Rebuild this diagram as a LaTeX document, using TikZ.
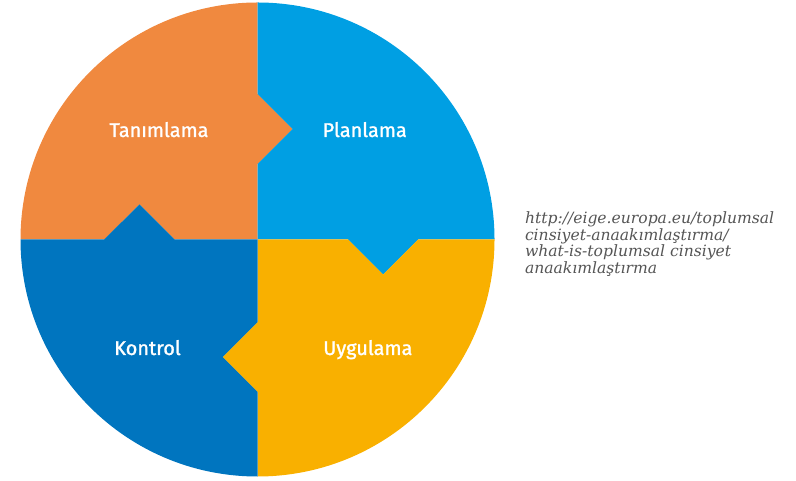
\documentclass[tikz,border=0pt]{standalone}
\usepackage{fontspec}
\setsansfont{Fira Sans}[BoldFont=*, BoldFeatures={FakeBold=1.3}]
\newfontfamily\urlfont{DejaVu Serif}
\definecolor{orangeQ}{RGB}{240,137,63}
\definecolor{blueQ}{RGB}{0,159,227}
\definecolor{yellowQ}{RGB}{249,176,0}
\definecolor{darkQ}{RGB}{0,117,191}
\definecolor{urlgray}{RGB}{85,85,85}

\begin{document}
\begin{tikzpicture}[x=0.03cm, y=0.03cm, every node/.style={inner sep=0pt, outer sep=0pt},
	label/.style={font=\sffamily\bfseries\fontsize{17}{20}\selectfont, text=white, anchor=base},
	url/.style={font=\urlfont\itshape\fontsize{13.3}{15}\selectfont, text=urlgray, anchor=base west}]
	\useasboundingbox (0,0) rectangle (796,480);
	
	% Tâm ve ok noktaları
	\coordinate (C) at (257.5, 240.5);
	\coordinate (o1) at (257.5, 316); \coordinate (o2) at (292.5, 351); \coordinate (o3) at (257.5, 386);
	\coordinate (b1) at (348, 240.5); \coordinate (b2) at (383, 205.5); \coordinate (b3) at (418, 240.5);
	\coordinate (y1) at (257.5, 158); \coordinate (y2) at (222.5, 123); \coordinate (y3) at (257.5, 88);
	\coordinate (d1) at (174.5, 240.5); \coordinate (d2) at (139.5, 275.5); \coordinate (d3) at (104, 240.5);
	
	% Tanımlama
	\fill[orangeQ] (C) -- (o1) -- (o2) -- (o3) -- (257.5, 477.5) arc[start angle=90, end angle=180, radius=237]
		-- (d3) -- (d2) -- (d1) -- cycle;
	% Planlama
	\fill[blueQ] (C) -- (b1) -- (b2) -- (b3) -- (494.5, 240.5) arc[start angle=0, end angle=90, radius=237]
		-- (o3) -- (o2) -- (o1) -- cycle;
	% Uygulama
	\fill[yellowQ] (C) -- (y1) -- (y2) -- (y3) -- (257.5, 3.5) arc[start angle=270, end angle=360, radius=237]
		-- (b3) -- (b2) -- (b1) -- cycle;
	% Kontrol
	\fill[darkQ] (C) -- (d1) -- (d2) -- (d3) -- (20.5, 240.5) arc[start angle=180, end angle=270, radius=237]
		-- (y3) -- (y2) -- (y1) -- cycle;
	
	% Etiketler
	\node[label] (tanim) at (159, 343) {Tanımlama};
	\node[label] (plan) at (364.7, 343) {Planlama};
	\node[label] (kontrol) at (147.5, 125) {Kontrol};
	\node[label] (uygula) at (367.8, 125) {Uygulama};
	
	% Kaynak
	\node[url] (url1) at (525, 256) {http://eige.europa.eu/toplumsal};
	\node[url] (url2) at (525, 239.3) {cinsiyet-anaakımlaştırma/};
	\node[url] (url3) at (525, 223) {what-is-toplumsal cinsiyet};
	\node[url] (url4) at (525, 206) {anaakımlaştırma};
\end{tikzpicture}
\end{document}
